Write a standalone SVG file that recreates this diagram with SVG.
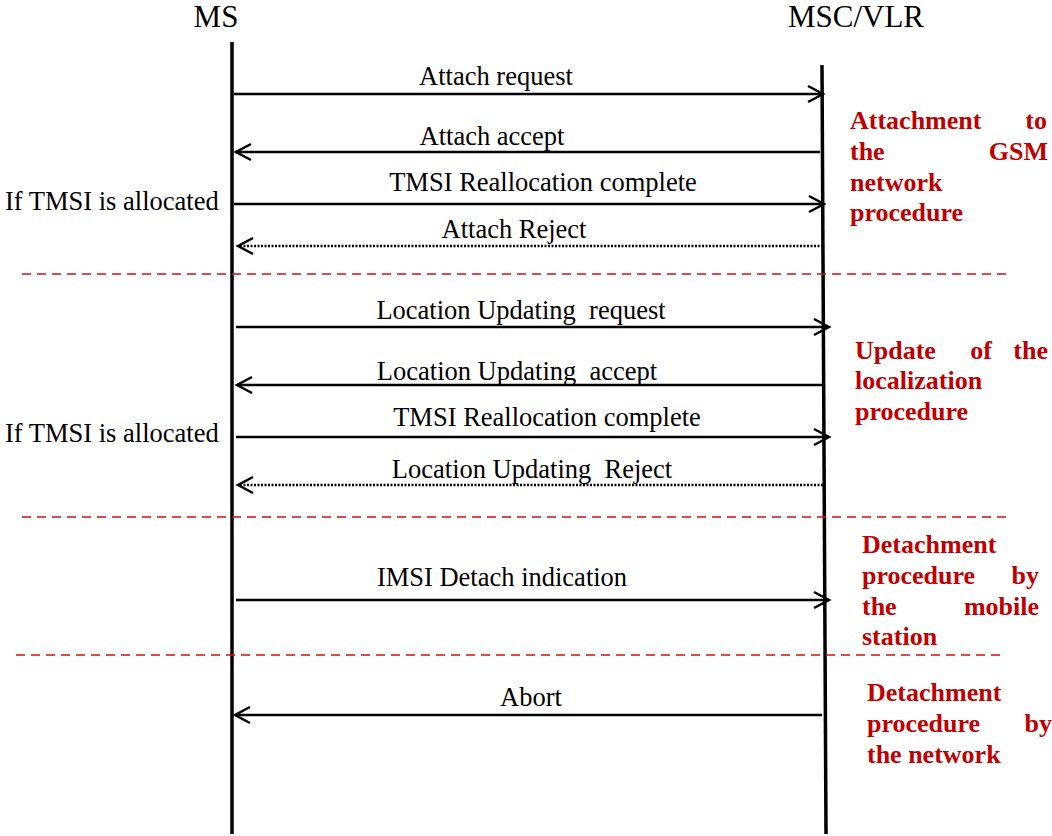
<svg xmlns="http://www.w3.org/2000/svg" width="1052" height="836" viewBox="0 0 1052 836">
<style>
.t{font-family:'Liberation Serif','Times New Roman',serif;font-size:26.5px;fill:#000;white-space:pre}
.h{font-family:'Liberation Serif','Times New Roman',serif;font-size:31px;fill:#000}
.r{font-family:'Liberation Serif','Times New Roman',serif;font-size:26px;font-weight:bold;fill:#c00000}
.life{stroke:#000;stroke-width:3.5;fill:none}
.msg{stroke:#000;stroke-width:2.5;fill:none}
.dot{stroke:#000;stroke-width:2.5;fill:none;stroke-dasharray:2 1.5}
.sep{stroke:#d01010;stroke-width:1.6;stroke-dasharray:9 6;fill:none}
.ah{stroke:#000;stroke-width:2.5;fill:none}
</style>
<rect width="1052" height="836" fill="#fff"/>
<g id="ms"><text class="h" x="216" y="27" text-anchor="middle">MS</text><line class="life" x1="232" y1="42" x2="232" y2="834"/></g>
<g id="mscvlr"><text class="h" x="856" y="27" text-anchor="middle">MSC/VLR</text><line class="life" x1="822" y1="65" x2="826" y2="834"/></g>
<g id="connectors">
<line class="msg" x1="234" y1="94" x2="822" y2="94"/><path class="ah" d="M808,86 L823,94 L808,102"/>
<line class="msg" x1="235" y1="152" x2="820" y2="152"/><path class="ah" d="M251,144 L236,152 L251,160"/>
<line class="msg" x1="234" y1="204" x2="823" y2="204"/><path class="ah" d="M809,196 L824,204 L809,212"/>
<line class="dot" x1="240" y1="246" x2="822" y2="246"/><path class="ah" d="M253,238 L238,246 L253,254"/>
<line class="msg" x1="236" y1="327" x2="828" y2="327"/><path class="ah" d="M814,319 L829,327 L814,335"/>
<line class="msg" x1="237" y1="385" x2="822" y2="385"/><path class="ah" d="M252,377 L237,385 L252,393"/>
<line class="msg" x1="236" y1="437" x2="828" y2="437"/><path class="ah" d="M814,429 L829,437 L814,445"/>
<line class="dot" x1="240" y1="485" x2="823" y2="485"/><path class="ah" d="M253,477 L238,485 L253,493"/>
<line class="msg" x1="236" y1="600" x2="828" y2="600"/><path class="ah" d="M814,592 L829,600 L814,608"/>
<line class="msg" x1="235" y1="715" x2="822" y2="715"/><path class="ah" d="M250,707 L235,715 L250,723"/>
<line class="sep" x1="22" y1="274" x2="1012" y2="274"/>
<line class="sep" x1="22" y1="517" x2="1012" y2="517"/>
<line class="sep" x1="16" y1="655" x2="1005" y2="655"/>
</g>
<g id="labels">
<text class="t" x="496" y="85" text-anchor="middle">Attach request</text>
<text class="t" x="492" y="145" text-anchor="middle">Attach accept</text>
<text class="t" x="543" y="191" text-anchor="middle">TMSI Reallocation complete</text>
<text class="t" x="514" y="238" text-anchor="middle">Attach Reject</text>
<text class="t" x="521" y="319" text-anchor="middle">Location Updating  request</text>
<text class="t" x="517" y="380" text-anchor="middle">Location Updating  accept</text>
<text class="t" x="547" y="426" text-anchor="middle">TMSI Reallocation complete</text>
<text class="t" x="532" y="478" text-anchor="middle">Location Updating  Reject</text>
<text class="t" x="502" y="586" text-anchor="middle">IMSI Detach indication</text>
<text class="t" x="531" y="706" text-anchor="middle">Abort</text>
<text class="t" x="5" y="210">If TMSI is allocated</text>
<text class="t" x="5" y="442">If TMSI is allocated</text>
</g>
<g id="note1">
<text class="r" x="850" y="129">Attachment</text><text class="r" x="1047" y="129" text-anchor="end">to</text>
<text class="r" x="850" y="160">the</text><text class="r" x="1048" y="160" text-anchor="end">GSM</text>
<text class="r" x="850" y="191">network</text>
<text class="r" x="850" y="221">procedure</text>
</g>
<g id="note2">
<text class="r" x="855" y="359">Update</text><text class="r" x="981" y="359" text-anchor="middle">of</text><text class="r" x="1048" y="359" text-anchor="end">the</text>
<text class="r" x="855" y="389">localization</text>
<text class="r" x="855" y="420">procedure</text>
</g>
<g id="note3">
<text class="r" x="862" y="553">Detachment</text>
<text class="r" x="862" y="584">procedure</text><text class="r" x="1039" y="584" text-anchor="end">by</text>
<text class="r" x="862" y="615">the</text><text class="r" x="1039" y="615" text-anchor="end">mobile</text>
<text class="r" x="862" y="645">station</text>
</g>
<g id="note4">
<text class="r" x="867" y="701">Detachment</text>
<text class="r" x="867" y="732">procedure</text><text class="r" x="1052" y="732" text-anchor="end">by</text>
<text class="r" x="867" y="763">the network</text>
</g>
</svg>
